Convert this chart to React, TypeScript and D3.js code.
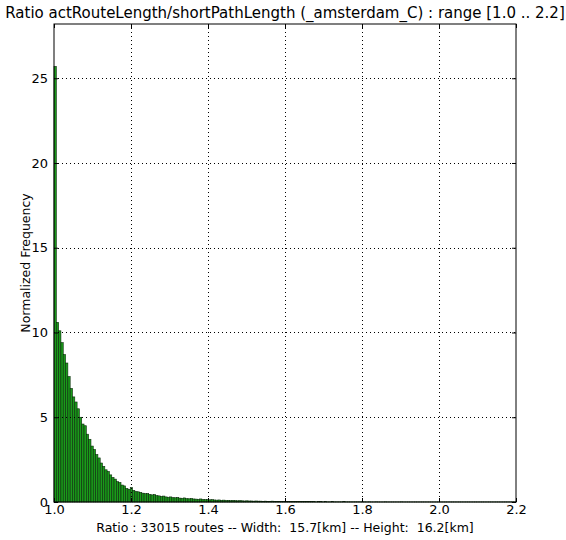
import React, { useRef, useEffect } from 'react';
import * as d3 from 'd3';

// histogram of route length ratio, 200 bins over [1.0, 2.2]
const xMin = 1.0;
const xMax = 2.2;
const binCount = 200;

const headBins = [
  25.7, 10.6, 10.1, 9.4, 8.7, 8.2, 7.4, 6.7, 6.2, 5.9, 5.5, 5.0, 4.6, 4.5, 4.0, 3.7, 3.3,
  3.1, 2.8, 2.6, 2.3, 2.1, 1.9, 1.8, 1.6, 1.45, 1.35, 1.2, 1.15, 1.0, 0.95, 0.8, 0.75, 0.85,
];
const midBins = [
  0.69, 0.62, 0.6, 0.57, 0.52, 0.49, 0.5, 0.45, 0.42, 0.44, 0.38, 0.36, 0.33, 0.35, 0.3,
  0.28, 0.3, 0.26, 0.25, 0.27, 0.23, 0.22, 0.24, 0.2, 0.19, 0.21, 0.18, 0.17, 0.16, 0.18,
  0.15, 0.14, 0.15,
];
const lowBins = [
  0.13, 0.14, 0.12, 0.11, 0.12, 0.1, 0.11, 0.09, 0.1, 0.08, 0.09, 0.08, 0.07, 0.08, 0.07,
  0.06, 0.07, 0.06, 0.06, 0.05, 0.06, 0.05, 0.05, 0.04, 0.05, 0.04, 0.04, 0.05, 0.04, 0.03,
  0.04, 0.03, 0.03, 0.04,
];
const tailBins = [
  0.03, 0.03, 0.02, 0.03, 0.02, 0.03, 0.02, 0.02, 0.03, 0.02, 0.02, 0.02, 0.01, 0.02, 0.02,
  0.01, 0.02, 0.01, 0.01, 0.02, 0.01, 0.01, 0.01, 0.01, 0.02, 0.01, 0.01, 0.01, 0.01, 0.01,
  0.01, 0.01, 0.01,
];
const farBins = [
  0.01, 0.005, 0.01, 0.005, 0.005, 0.01, 0.005, 0.005, 0.005, 0.01, 0.005, 0.005, 0.005,
  0.005, 0.005, 0.005, 0.01, 0.005, 0.005, 0.005, 0.005, 0.005, 0.005, 0.005, 0.005, 0.005,
  0.005, 0.005, 0.005, 0.005, 0.005, 0.005, 0.005, 0.005, 0.005, 0.005, 0.005, 0.005, 0.005,
  0.005, 0.005, 0.005, 0.005, 0.005, 0.005, 0.005, 0.005, 0.005, 0.005, 0.005, 0.005, 0.005,
  0.005, 0.005, 0.005, 0.005, 0.005, 0.005, 0.005, 0.005, 0.005, 0.005, 0.005, 0.005, 0.005,
  0.005,
];

const xTicks = [1.0, 1.2, 1.4, 1.6, 1.8, 2.0, 2.2];
const yTicks = [0, 5, 10, 15, 20, 25];
const yMax = 28.2;

const title = 'Ratio actRouteLength/shortPathLength (_amsterdam_C) : range [1.0 .. 2.2]';
const xLabel = 'Ratio : 33015 routes -- Width:  15.7[km] -- Height:  16.2[km]';
const yLabel = 'Normalized Frequency';

function App() {
  const ref = useRef<SVGSVGElement>(null);

  useEffect(() => {
    const svg = d3.select(ref.current);
    svg.selectAll('*').remove();

    const margin = { top: 24, right: 50, bottom: 38, left: 54 };
    const width = 566 - margin.left - margin.right;
    const height = 540 - margin.top - margin.bottom;
    const font = 'DejaVu Sans, sans-serif';

    const values = [...headBins, ...midBins, ...lowBins, ...tailBins, ...farBins].slice(0, binCount);
    const binW = (xMax - xMin) / binCount;

    const x = d3.scaleLinear().domain([xMin, xMax]).range([0, width]);
    const y = d3.scaleLinear().domain([0, yMax]).range([height, 0]);

    svg.append('rect').attr('width', 566).attr('height', 540).attr('fill', '#fff');

    const g = svg.append('g').attr('transform', `translate(${margin.left},${margin.top})`);

    // bars
    g.append('g')
      .selectAll('rect')
      .data(values)
      .enter().append('rect')
        .attr('x', (d, i) => x(xMin + i * binW))
        .attr('y', d => y(d))
        .attr('width', x(xMin + binW) - x(xMin))
        .attr('height', d => y(0) - y(d))
        .attr('fill', '#1a9a1a')
        .attr('stroke', '#0b2a0b')
        .attr('stroke-width', 0.6);

    // grid
    const grid = g.append('g').attr('stroke', '#000').attr('stroke-width', 1)
      .attr('stroke-dasharray', '1,3');
    grid.selectAll('.gx')
      .data(xTicks.slice(1, -1))
      .enter().append('line')
        .attr('x1', d => Math.round(x(d)) + 0.5).attr('x2', d => Math.round(x(d)) + 0.5)
        .attr('y1', 0).attr('y2', height);
    grid.selectAll('.gy')
      .data(yTicks.slice(1))
      .enter().append('line')
        .attr('y1', d => Math.round(y(d)) + 0.5).attr('y2', d => Math.round(y(d)) + 0.5)
        .attr('x1', 0).attr('x2', width);

    // axes, ticks pointing inward on all sides
    const xb = g.append('g').attr('transform', `translate(0,${height})`)
      .call(d3.axisBottom(x).tickValues(xTicks).tickSizeInner(-4).tickSizeOuter(0).tickPadding(3).tickFormat(d3.format('.1f')));
    const xt = g.append('g')
      .call(d3.axisTop(x).tickValues(xTicks).tickSizeInner(-4).tickSizeOuter(0).tickFormat(() => ''));
    const yl = g.append('g')
      .call(d3.axisLeft(y).tickValues(yTicks).tickSizeInner(-4).tickSizeOuter(0).tickPadding(6).tickFormat(d3.format('d')));
    const yr = g.append('g').attr('transform', `translate(${width},0)`)
      .call(d3.axisRight(y).tickValues(yTicks).tickSizeInner(-4).tickSizeOuter(0).tickFormat(() => ''));

    [xb, xt, yl, yr].forEach(a => {
      a.select('.domain').remove();
      a.selectAll('text').attr('font-family', font).attr('font-size', 13).attr('fill', '#000');
    });

    g.append('rect')
      .attr('width', width).attr('height', height)
      .attr('fill', 'none').attr('stroke', '#000').attr('stroke-width', 1);

    svg.append('text')
      .attr('x', margin.left + width / 2).attr('y', 18)
      .attr('text-anchor', 'middle')
      .attr('font-family', font).attr('font-size', 15)
      .text(title);

    svg.append('text')
      .attr('x', margin.left + width / 2).attr('y', 532)
      .attr('text-anchor', 'middle')
      .attr('font-family', font).attr('font-size', 12.5)
      .style('white-space', 'pre')
      .text(xLabel);

    svg.append('text')
      .attr('transform', `translate(30,${margin.top + height / 2}) rotate(-90)`)
      .attr('text-anchor', 'middle')
      .attr('font-family', font).attr('font-size', 12.5)
      .text(yLabel);
  }, []);

  return <svg ref={ref} width={566} height={540} style={{ position: 'absolute', left: 0, top: 0 }}></svg>;
}

export default App;
